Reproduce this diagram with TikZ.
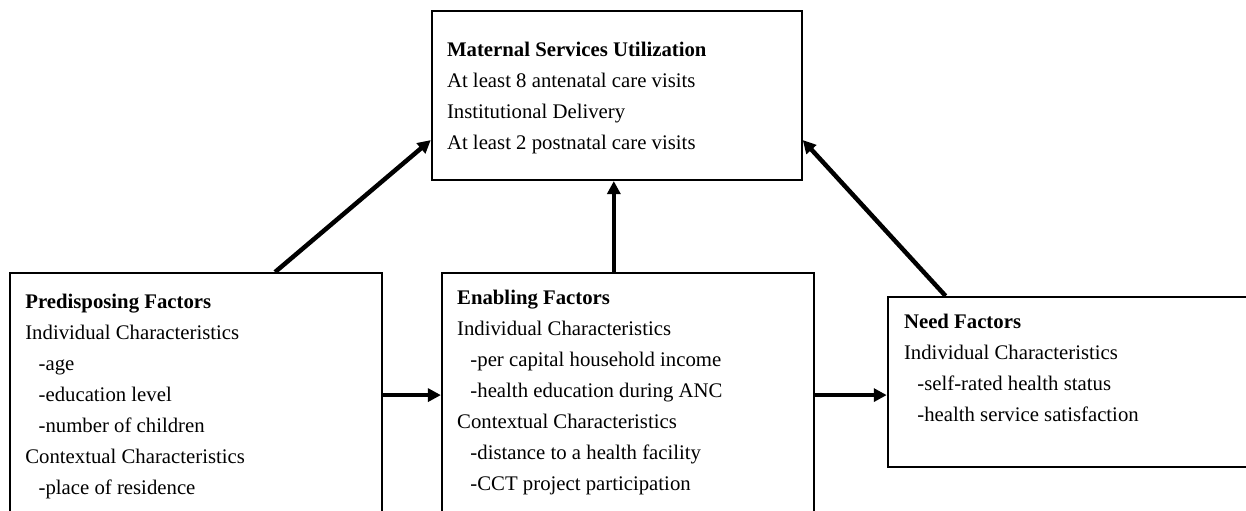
\documentclass[tikz,border=0pt]{standalone}
\usepackage{fontspec}
\setmainfont{Liberation Serif}
\usetikzlibrary{positioning,arrows.meta}
\newcommand{\ind}{\hspace*{7.7pt}}

\begin{document}
\begin{tikzpicture}[x=0.578pt,y=-0.578pt,>={Triangle[length=7.5pt,width=7.5pt]},
  box/.style={draw,line width=1.1pt,inner sep=0pt},
  txt/.style={align=left,inner sep=0pt,anchor=north west,font=\fontsize{12}{17.9}\selectfont},
  link/.style={->,line width=2.6pt}]

  \useasboundingbox (0,0) rectangle (1246,510);

  \node[box,minimum width=215pt,minimum height=154.3pt] (pred) at (196,406.5) {};
  \node[box,minimum width=215pt,minimum height=154.3pt] (enab) [right=33.5pt of pred] {};
  \node[box,minimum width=240pt,minimum height=98.3pt] (need) [right=41.6pt of enab,yshift=14.2pt] {};
  \node[box,minimum width=213.9pt,minimum height=97.7pt] (util) [above=52.6pt of enab,xshift=-6.4pt] {};

  % texts in the boxes
  \node[txt] (util-t) at ([shift={(9.2pt,-18.5pt)}]util.north west) {\textbf{Maternal Services Utilization}\\
    At least 8 antenatal care visits\\
    Institutional Delivery\\
    At least 2 postnatal care visits};
  \node[txt] (pred-t) at ([shift={(9.2pt,-12.7pt)}]pred.north west) {\textbf{Predisposing Factors}\\
    Individual Characteristics\\
    \ind-age\\
    \ind-education level\\
    \ind-number of children\\
    Contextual Characteristics\\
    \ind-place of residence};
  \node[txt] (enab-t) at ([shift={(9.2pt,-10.4pt)}]enab.north west) {\textbf{Enabling Factors}\\
    Individual Characteristics\\
    \ind-per capital household income\\
    \ind-health education during ANC\\
    Contextual Characteristics\\
    \ind-distance to a health facility\\
    \ind-CCT project participation};
  \node[txt] (need-t) at ([shift={(9.8pt,-10.4pt)}]need.north west) {\textbf{Need Factors}\\
    Individual Characteristics\\
    \ind-self-rated health status\\
    \ind-health service satisfaction};

  \draw[link] ([xshift=45.7pt]pred.north) -- ([yshift=-25.7pt]util.west);
  \draw[link] ([xshift=-8.1pt]enab.north) -- ([xshift=-8.1pt]enab.north |- util.south);
  \draw[link] ([xshift=34pt]need.north west) -- ([yshift=-25.7pt]util.east);
  \draw[link] ([yshift=6.6pt]pred.east) -- ([yshift=6.6pt]pred.east -| enab.west);
  \draw[link] ([yshift=6.6pt]enab.east) -- ([yshift=6.6pt]enab.east -| need.west);

\end{tikzpicture}
\end{document}
